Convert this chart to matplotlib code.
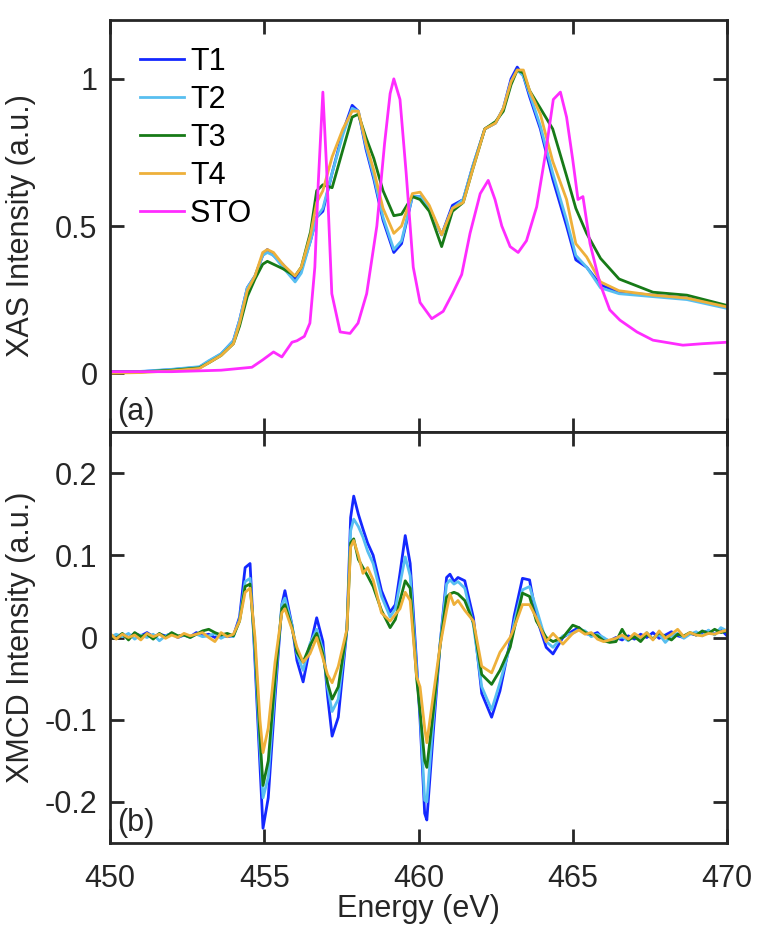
"""XAS / XMCD panels for T1-T4 with STO reference (recreated figure)."""

import matplotlib
matplotlib.use("Agg")
import matplotlib.pyplot as plt
import numpy as np

plt.rcParams["font.family"] = ["Liberation Sans", "DejaVu Sans"]
plt.rcParams["font.size"] = 22

TXT = "#262626"
COLORS = {"T1": "#1428ff", "T2": "#58bff0", "T3": "#177a17",
          "T4": "#eeb03a", "STO": "#ff2cff"}

# ---- panel (a): XAS -------------------------------------------------------
E_xas = [450.0, 451.0, 452.0, 452.9, 453.2, 453.6, 454.0, 454.2, 454.45, 454.7,
         454.95, 455.1, 455.3, 455.6, 456.0, 456.2, 456.5, 456.7, 456.9, 457.2,
         457.55, 457.85, 458.05, 458.3, 458.55, 458.85, 459.2, 459.45, 459.8,
         460.05, 460.35, 460.75, 461.1, 461.45, 461.75, 462.15, 462.5, 462.75,
         463.0, 463.2, 463.4, 463.6, 463.95, 464.35, 464.8, 465.1, 465.45,
         465.9, 466.5, 467.6, 468.7, 470.0]

xas_t1 = [0.005, 0.005, 0.012, 0.02, 0.04, 0.065, 0.11, 0.18, 0.29, 0.33,
          0.40, 0.42, 0.40, 0.37, 0.32, 0.35, 0.45, 0.53, 0.55, 0.68,
          0.82, 0.91, 0.89, 0.76, 0.66, 0.52, 0.41, 0.44, 0.60,
          0.60, 0.56, 0.47, 0.57, 0.59, 0.70, 0.83, 0.85, 0.90,
          1.00, 1.04, 1.01, 0.94, 0.83, 0.66, 0.50, 0.385, 0.36,
          0.30, 0.275, 0.265, 0.255, 0.225]
xas_t2 = [0.004, 0.006, 0.013, 0.022, 0.042, 0.066, 0.11, 0.18, 0.29, 0.33,
          0.40, 0.41, 0.40, 0.36, 0.31, 0.34, 0.45, 0.53, 0.56, 0.68,
          0.81, 0.90, 0.89, 0.77, 0.67, 0.53, 0.42, 0.45, 0.60,
          0.60, 0.56, 0.47, 0.56, 0.59, 0.70, 0.83, 0.85, 0.90,
          0.99, 1.03, 1.01, 0.95, 0.84, 0.68, 0.52, 0.40, 0.36,
          0.29, 0.27, 0.26, 0.25, 0.22]
xas_t3 = [0.004, 0.004, 0.010, 0.018, 0.035, 0.06, 0.10, 0.16, 0.26, 0.32,
          0.37, 0.38, 0.37, 0.355, 0.33, 0.36, 0.48, 0.62, 0.64, 0.63,
          0.76, 0.87, 0.88, 0.80, 0.73, 0.62, 0.535, 0.54, 0.60,
          0.59, 0.55, 0.43, 0.55, 0.58, 0.69, 0.83, 0.855, 0.89,
          0.98, 1.03, 1.02, 0.96, 0.90, 0.83, 0.67, 0.56, 0.475,
          0.39, 0.32, 0.275, 0.265, 0.23]
xas_t4 = [0.0, 0.002, 0.008, 0.016, 0.035, 0.06, 0.10, 0.17, 0.28, 0.33,
          0.41, 0.42, 0.41, 0.37, 0.33, 0.36, 0.47, 0.58, 0.62, 0.735,
          0.83, 0.89, 0.89, 0.78, 0.69, 0.56, 0.475, 0.50, 0.61,
          0.615, 0.57, 0.47, 0.56, 0.58, 0.69, 0.83, 0.85, 0.90,
          0.99, 1.03, 1.03, 0.96, 0.88, 0.72, 0.59, 0.44, 0.395,
          0.31, 0.28, 0.265, 0.255, 0.225]

E_sto = [450.0, 452.0, 453.6, 454.6, 454.95, 455.3, 455.57, 455.9, 456.06,
         456.3, 456.48, 456.64, 456.75, 456.9, 457.02, 457.19, 457.46, 457.78,
         458.04, 458.32, 458.65, 458.9, 459.08, 459.2, 459.4, 459.6, 459.83,
         460.05, 460.43, 460.8, 461.1, 461.4, 461.67, 462.0, 462.26, 462.48,
         462.7, 462.97, 463.23, 463.5, 463.83, 464.1, 464.37, 464.6, 464.8,
         465.0, 465.17, 465.33, 465.56, 465.88, 466.2, 466.53, 467.08, 467.6,
         468.57, 469.2, 470.0]
xas_sto = [0.005, 0.005, 0.01, 0.02, 0.045, 0.072, 0.055, 0.105, 0.11,
           0.125, 0.17, 0.36, 0.645, 0.955, 0.70, 0.27, 0.14, 0.135,
           0.17, 0.27, 0.50, 0.78, 0.95, 1.0, 0.93, 0.68, 0.36,
           0.24, 0.185, 0.21, 0.27, 0.335, 0.475, 0.61, 0.655, 0.59,
           0.50, 0.43, 0.41, 0.45, 0.565, 0.735, 0.93, 0.955, 0.87,
           0.725, 0.59, 0.60, 0.44, 0.305, 0.215, 0.18, 0.14, 0.112,
           0.095, 0.10, 0.105]

# ---- panel (b): XMCD ------------------------------------------------------
E_xmcd = [450.0, 450.2, 450.4, 450.6, 450.8, 451.0, 451.2, 451.4, 451.6, 451.8,
          452.0, 452.2, 452.4, 452.6, 452.8, 453.0, 453.2, 453.4, 453.6, 453.8,
          454.0,
          454.2, 454.38, 454.54, 454.7, 454.86, 454.96, 455.13, 455.35, 455.57,
          455.67, 455.9, 456.06, 456.26, 456.48, 456.7, 456.9, 457.05, 457.2,
          457.4, 457.68, 457.8, 457.9, 458.05, 458.2, 458.35, 458.53, 458.8,
          459.08, 459.25, 459.4, 459.57, 459.73, 459.94, 460.05, 460.2, 460.27,
          460.48, 460.7, 460.91, 461.02, 461.15, 461.28, 461.5, 461.78, 462.05,
          462.37, 462.64, 462.97, 463.1, 463.37, 463.6, 463.82, 464.14, 464.36,
          464.68,
          465.0, 465.2, 465.4, 465.6, 465.8, 466.0, 466.2, 466.4, 466.6, 466.8,
          467.0, 467.2, 467.4, 467.6, 467.8, 468.0, 468.2, 468.4, 468.6, 468.8,
          469.0, 469.2, 469.4, 469.6, 469.8, 470.0]

xmcd_t1 = [0.003, 0.001, 0.004, 0.000, 0.005, 0.002, 0.006, 0.001, 0.004, 0.002,
           0.005, 0.000, 0.003, 0.001, 0.006, 0.002, 0.004, 0.000, 0.003, 0.001,
           0.002,
           0.025, 0.085, 0.090, -0.030, -0.155, -0.232, -0.195, -0.073, 0.040,
           0.057, 0.015, -0.028, -0.054, -0.012, 0.024, -0.005, -0.070, -0.120,
           -0.097, 0.010, 0.146, 0.172, 0.150, 0.132, 0.115, 0.100, 0.057,
           0.031, 0.040, 0.078, 0.124, 0.090, -0.032, -0.100, -0.214, -0.222,
           -0.115, -0.008, 0.073, 0.077, 0.068, 0.073, 0.069, 0.024, -0.068,
           -0.097, -0.065, -0.005, 0.026, 0.072, 0.070, 0.025, -0.012, -0.020,
           0.000,
           0.008, 0.012, 0.005, 0.003, 0.006, -0.002, -0.004, 0.000, -0.003, 0.002,
           -0.002, 0.004, 0.000, 0.006, -0.001, 0.003, 0.007, 0.002, 0.000, 0.005,
           0.003, 0.006, 0.008, 0.004, 0.010, 0.002]
xmcd_t2 = [0.000, 0.004, 0.001, 0.005, -0.002, 0.003, 0.000, 0.004, -0.004, 0.002,
           0.005, 0.001, 0.003, 0.000, 0.004, 0.001, 0.002, 0.005, -0.001, 0.003,
           0.001,
           0.022, 0.068, 0.072, -0.020, -0.135, -0.195, -0.170, -0.060, 0.040,
           0.048, 0.015, -0.020, -0.040, -0.008, 0.010, -0.015, -0.060, -0.090,
           -0.075, 0.010, 0.130, 0.144, 0.135, 0.122, 0.105, 0.090, 0.050,
           0.025, 0.035, 0.065, 0.098, 0.075, -0.040, -0.090, -0.198, -0.200,
           -0.100, -0.008, 0.065, 0.070, 0.065, 0.068, 0.060, 0.015, -0.060,
           -0.088, -0.055, -0.010, 0.018, 0.058, 0.062, 0.035, -0.005, -0.012,
           0.002,
           0.005, 0.010, 0.008, 0.001, 0.004, 0.000, -0.005, -0.002, 0.001, -0.004,
           0.003, -0.003, 0.006, -0.002, 0.004, -0.006, 0.002, 0.005, -0.001, 0.004,
           0.007, 0.002, 0.009, 0.003, 0.012, 0.008]
xmcd_t3 = [0.002, -0.001, 0.005, -0.003, 0.006, 0.001, 0.004, -0.002, 0.005, 0.000,
           0.006, 0.002, 0.003, 0.000, 0.004, 0.008, 0.010, 0.006, 0.003, 0.005,
           0.002,
           0.020, 0.062, 0.065, -0.010, -0.120, -0.180, -0.150, -0.050, 0.035,
           0.040, 0.012, -0.018, -0.030, -0.010, 0.005, -0.020, -0.055, -0.075,
           -0.060, 0.010, 0.115, 0.120, 0.095, 0.085, 0.075, 0.062, 0.033,
           0.012, 0.022, 0.045, 0.069, 0.060, -0.050, -0.090, -0.150, -0.158,
           -0.090, -0.010, 0.049, 0.053, 0.055, 0.053, 0.045, 0.018, -0.045,
           -0.057, -0.040, -0.012, 0.010, 0.054, 0.050, 0.020, 0.000, -0.005,
           0.000,
           0.015, 0.012, 0.006, 0.004, 0.002, -0.004, -0.006, -0.005, 0.010, -0.003,
           0.001, -0.005, 0.004, -0.002, 0.006, 0.001, -0.003, 0.004, 0.002, 0.006,
           0.003, 0.008, 0.005, 0.010, 0.006, 0.008]
xmcd_t4 = [0.005, -0.002, 0.004, 0.000, 0.003, -0.003, 0.005, 0.001, 0.004, -0.001,
           0.003, 0.000, 0.005, 0.002, 0.004, 0.006, 0.000, -0.005, 0.006, 0.001,
           0.004,
           0.020, 0.055, 0.060, 0.000, -0.100, -0.140, -0.110, -0.030, 0.030,
           0.035, 0.010, -0.012, -0.030, -0.020, 0.000, -0.025, -0.045, -0.055,
           -0.035, 0.010, 0.110, 0.118, 0.100, 0.078, 0.085, 0.070, 0.030,
           0.020, 0.028, 0.035, 0.055, 0.045, -0.048, -0.060, -0.110, -0.128,
           -0.070, -0.010, 0.033, 0.053, 0.040, 0.045, 0.033, 0.020, -0.035,
           -0.043, -0.018, 0.000, 0.012, 0.040, 0.040, 0.024, -0.005, 0.005,
           -0.008,
           0.005, 0.009, 0.004, 0.006, -0.002, -0.005, -0.003, -0.001, 0.003, -0.002,
           0.005, 0.000, 0.006, -0.003, 0.008, -0.001, 0.004, 0.010, 0.001, 0.006,
           0.003, 0.002, 0.005, 0.004, 0.007, 0.009]

xas = {"T1": xas_t1, "T2": xas_t2, "T3": xas_t3, "T4": xas_t4}
xmcd = {"T1": xmcd_t1, "T2": xmcd_t2, "T3": xmcd_t3, "T4": xmcd_t4}


def style_axes(ax):
    for s in ax.spines.values():
        s.set_linewidth(2.0)
        s.set_color(TXT)
    ax.tick_params(direction="in", length=10, width=2.0, colors=TXT,
                   top=True, right=True, labelsize=22)
    ax.tick_params(axis="y", pad=9)
    ax.tick_params(axis="x", pad=15)
    ax.set_xlim(450, 470)
    ax.set_xticks([450, 455, 460, 465, 470])


fig = plt.figure(figsize=(7.64, 9.36), dpi=100)
ax1 = fig.add_axes([110 / 764, 1 - 432 / 936, 617 / 764, 412 / 936])
ax2 = fig.add_axes([110 / 764, 1 - 843 / 936, 617 / 764, 411 / 936])

lw = 2.0
for name, vals in xas.items():
    ax1.plot(E_xas, vals, color=COLORS[name], lw=lw, label=name)
ax1.plot(E_sto, xas_sto, color=COLORS["STO"], lw=lw, label="STO")

style_axes(ax1)
ax1.set_ylim(-0.2, 1.2)
ax1.set_yticks([0, 0.5, 1])
ax1.set_yticklabels(["0", "0.5", "1"])
ax1.tick_params(labelbottom=False)
ax1.set_ylabel("XAS Intensity (a.u.)", color=TXT)
ax1.yaxis.set_label_coords(-0.12, 0.5)
ax1.text(0.012, 0.03, "(a)", transform=ax1.transAxes, color=TXT)
leg = ax1.legend(loc="upper left", bbox_to_anchor=(0.048, 0.935), frameon=False,
                 borderpad=0, borderaxespad=0, handlelength=1.45,
                 handletextpad=0.2, labelspacing=0.26, fontsize=22)
for t in leg.get_texts():
    t.set_color("black")

for name, vals in xmcd.items():
    ax2.plot(E_xmcd, vals, color=COLORS[name], lw=lw)

style_axes(ax2)
ax2.set_ylim(-0.25, 0.25)
ax2.set_yticks([-0.2, -0.1, 0, 0.1, 0.2])
ax2.set_yticklabels(["-0.2", "-0.1", "0", "0.1", "0.2"])
ax2.set_xticklabels(["450", "455", "460", "465", "470"])
ax2.set_ylabel("XMCD Intensity (a.u.)", color=TXT)
ax2.yaxis.set_label_coords(-0.12, 0.5)
ax2.set_xlabel("Energy (eV)", color=TXT, labelpad=0)
ax2.text(0.012, 0.03, "(b)", transform=ax2.transAxes, color=TXT)

fig.savefig("out.png", dpi=100)
plt.close(fig)
